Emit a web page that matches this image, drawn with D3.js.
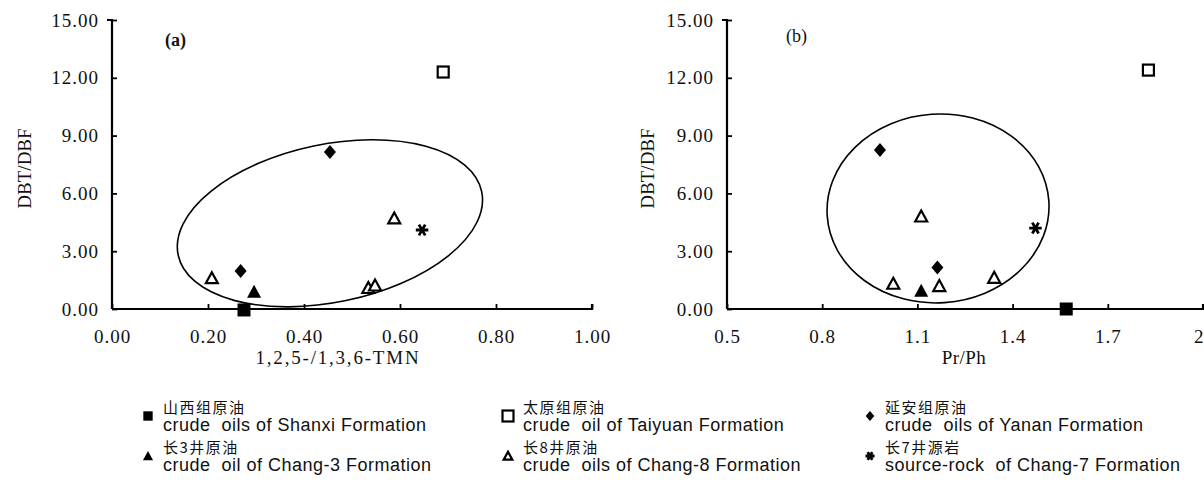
<!DOCTYPE html>
<html>
<head>
<meta charset="utf-8">
<script src="https://cdn.jsdelivr.net/npm/d3@7"></script>
<style>
  html, body { margin: 0; padding: 0; background: #fff; }
  svg { display: block; }
  .num { font-family: "Liberation Serif", "DejaVu Serif", serif; font-size: 19px; letter-spacing: 1px; fill: #111; }
  .ttl { font-family: "Liberation Serif", "DejaVu Serif", serif; font-size: 19px; fill: #111; }
  .cn  { font-family: "Noto Sans CJK SC", sans-serif; font-size: 15px; letter-spacing: 1.5px; fill: #111; }
  .en  { font-family: "Liberation Sans", Arial, sans-serif; font-size: 18px; letter-spacing: 0.5px; fill: #111; }
</style>
</head>
<body>
<svg id="chart" width="1204" height="483"></svg>
<script>
// ── data ────────────────────────────────────────────────────
// rows: [series, x, DBT/DBF]
const panelA = [            // x = 1,2,5-/1,3,6-TMN
  ['shanxi', 0.275, -0.05],
  ['taiyuan', 0.69, 12.3],
  ['yanan', 0.454, 8.15],
  ['yanan', 0.268, 1.97],
  ['chang3', 0.296, 0.9],
  ['chang8', 0.208, 1.6],
  ['chang8', 0.534, 1.09],
  ['chang8', 0.548, 1.22],
  ['chang8', 0.588, 4.7],
  ['chang7', 0.646, 4.1],
];
const panelB = [            // x = Pr/Ph
  ['shanxi', 1.569, 0.0],
  ['taiyuan', 1.828, 12.4],
  ['yanan', 0.982, 8.25],
  ['yanan', 1.163, 2.15],
  ['chang3', 1.112, 0.95],
  ['chang8', 1.112, 4.8],
  ['chang8', 1.024, 1.31],
  ['chang8', 1.169, 1.19],
  ['chang8', 1.342, 1.62],
  ['chang7', 1.472, 4.2],
];
// enclosing curves, in data units
const ellipseA = { cx: 0.454, cy: 4.45, ax: 0.323, by: 4.1, angle: -11.8 };
const ellipseB = { cx: 1.165, cy: 5.22, ax: 0.35, by: 4.9, angle: -4 };

const yTicks = [0, 3, 6, 9, 12, 15];
const xTicksA = [0, 0.2, 0.4, 0.6, 0.8, 1.0];
const xTicksB = [0.5, 0.8, 1.1, 1.4, 1.7, 2.0];
const xTickLabelsB = ['0.5', '0.8', '1.1', '1.4', '1.7', '2'];

const legendKeys = ['shanxi', 'taiyuan', 'yanan', 'chang3', 'chang8', 'chang7'];
const legendCn = ['山西组原油', '太原组原油', '延安组原油', '长3井原油', '长8井原油', '长7井源岩'];
const legendEn = [
  'crude  oils of Shanxi Formation',
  'crude  oil of Taiyuan Formation',
  'crude  oils of Yanan Formation',
  'crude  oil of Chang-3 Formation',
  'crude  oils of Chang-8 Formation',
  'source-rock  of Chang-7 Formation',
];

// ── drawing ─────────────────────────────────────────────────
const svg = d3.select('#chart');
svg.append('rect').attr('width', 1204).attr('height', 483).attr('fill', '#fff');

// marker look per series; size scales with `k`
function marker(sel, key, k) {
  const s = 1 * k;
  if (key === 'shanxi') {
    sel.append('rect').attr('x', -6.5 * s).attr('y', -6.5 * s).attr('width', 13 * s).attr('height', 13 * s).attr('fill', '#000');
  } else if (key === 'taiyuan') {
    sel.append('rect').attr('x', -5.5 * s).attr('y', -5.5 * s).attr('width', 11 * s).attr('height', 11 * s)
      .attr('fill', '#fff').attr('stroke', '#000').attr('stroke-width', 2.2);
  } else if (key === 'yanan') {
    sel.append('path').attr('d', `M0,${-7 * s}L${6 * s},0L0,${7 * s}L${-6 * s},0Z`).attr('fill', '#000');
  } else if (key === 'chang3') {
    sel.append('path').attr('d', `M0,${-7 * s}L${7 * s},${6 * s}L${-7 * s},${6 * s}Z`).attr('fill', '#000');
  } else if (key === 'chang8') {
    sel.append('path').attr('d', `M0,${-6 * s}L${6 * s},${5 * s}L${-6 * s},${5 * s}Z`)
      .attr('fill', '#fff').attr('stroke', '#000').attr('stroke-width', 2.2).attr('stroke-linejoin', 'miter');
  } else if (key === 'chang7') {
    sel.append('path').attr('d', d3.symbol(d3.symbolAsterisk, 110 * s * s)())
      .attr('transform', 'rotate(90)')
      .attr('fill', 'none').attr('stroke', '#000').attr('stroke-width', 2.8);
  }
}

function panel(opts) {
  const { left, right, top, bottom } = opts;
  const x = d3.scaleLinear().domain(opts.xDomain).range([left, right]);
  const y = d3.scaleLinear().domain([0, 15]).range([bottom, top]);
  const g = svg.append('g');

  // axes (ticks point inward, as in the figure)
  const yAxis = d3.axisLeft(y).tickValues(yTicks).tickSize(-5).tickPadding(13).tickFormat(d3.format('.2f'));
  const ya = g.append('g').attr('transform', `translate(${left},0)`).call(yAxis);
  const xAxis = d3.axisBottom(x).tickValues(opts.xTicks).tickSize(-5).tickPadding(16).tickFormat(opts.xFormat);
  const xa = g.append('g').attr('transform', `translate(0,${bottom})`).call(xAxis);
  [ya, xa].forEach(a => {
    a.select('.domain').attr('stroke', '#000').attr('stroke-width', 2.2);
    a.selectAll('.tick line').attr('stroke', '#000').attr('stroke-width', 1.8);
    a.selectAll('.tick text').attr('class', 'num').attr('font-size', null).attr('font-family', null).attr('fill', null);
  });
  ya.select('.domain').attr('d', `M-5,${top}H0V${bottom}`);
  xa.select('.domain').attr('d', `M${left},0H${right}V-5`);
  xa.selectAll('.tick text').attr('dy', '0.95em');
  // last label sits on the page edge: keep it inside
  if (opts.clipLast) xa.selectAll('.tick:last-of-type text').attr('text-anchor', 'end').attr('dx', 1);

  // titles
  g.append('text').attr('class', 'ttl')
    .attr('transform', `translate(${opts.yTitleX},${(top + bottom) / 2 + 4}) rotate(-90)`)
    .attr('text-anchor', 'middle').attr('dy', '0.35em').text('DBT/DBF');
  g.append('text').attr('class', 'ttl').attr('x', opts.xTitleX).attr('y', 364)
    .attr('text-anchor', 'middle').style('letter-spacing', opts.xTitleSpacing).text(opts.xTitle);
  g.append('text').attr('class', 'ttl').attr('x', opts.tagX).attr('y', opts.tagY)
    .style('font-size', '18px').style('font-weight', opts.tagWeight).text(opts.tag);

  // enclosing ellipse
  const e = opts.ellipse;
  g.append('ellipse')
    .attr('cx', 0).attr('cy', 0)
    .attr('rx', x(e.cx + e.ax) - x(e.cx))
    .attr('ry', y(e.cy) - y(e.cy + e.by))
    .attr('transform', `translate(${x(e.cx)},${y(e.cy)}) rotate(${e.angle})`)
    .attr('fill', 'none').attr('stroke', '#000').attr('stroke-width', 1.6);

  // points
  g.selectAll('g.pt').data(opts.data).enter().append('g').attr('class', 'pt')
    .attr('transform', d => `translate(${x(d[1])},${y(d[2])})`)
    .each(function (d) { marker(d3.select(this), d[0], 1); });
}

panel({
  left: 112, right: 592, top: 20, bottom: 309,
  xDomain: [0, 1], xTicks: xTicksA, xFormat: d3.format('.2f'),
  yTitleX: 24, xTitle: '1,2,5-/1,3,6-TMN', xTitleX: 338, xTitleSpacing: '1.8px',
  tag: '(a)', tagX: 165, tagY: 46, tagWeight: '600',
  ellipse: ellipseA, data: panelA,
});
panel({
  left: 727, right: 1203, top: 20, bottom: 309,
  xDomain: [0.5, 2.0], xTicks: xTicksB, xFormat: (d, i) => xTickLabelsB[i], clipLast: true,
  yTitleX: 647, xTitle: 'Pr/Ph', xTitleX: 964, xTitleSpacing: '0.5px',
  tag: '(b)', tagX: 786, tagY: 42, tagWeight: 'normal',
  ellipse: ellipseB, data: panelB,
});

// legend: 3 columns x 2 rows
const legX = [148, 508, 870];
const legY = [410, 450];
const leg = svg.append('g');
legendKeys.forEach((key, i) => {
  const col = i % 3, row = Math.floor(i / 3);
  const mx = legX[col], my = legY[row] + 6;
  const m = leg.append('g').attr('transform', `translate(${mx},${my})`);
  marker(m, key, key === 'taiyuan' ? 1 : 0.72);
  const tx = mx + 15;
  leg.append('text').attr('class', 'cn').attr('x', tx).attr('y', legY[row] + 3).text(legendCn[i]);
  leg.append('text').attr('class', 'en').attr('x', tx).attr('y', legY[row] + 21)
    .style('white-space', 'pre').attr('xml:space', 'preserve').text(legendEn[i]);
});
</script>
</body>
</html>
